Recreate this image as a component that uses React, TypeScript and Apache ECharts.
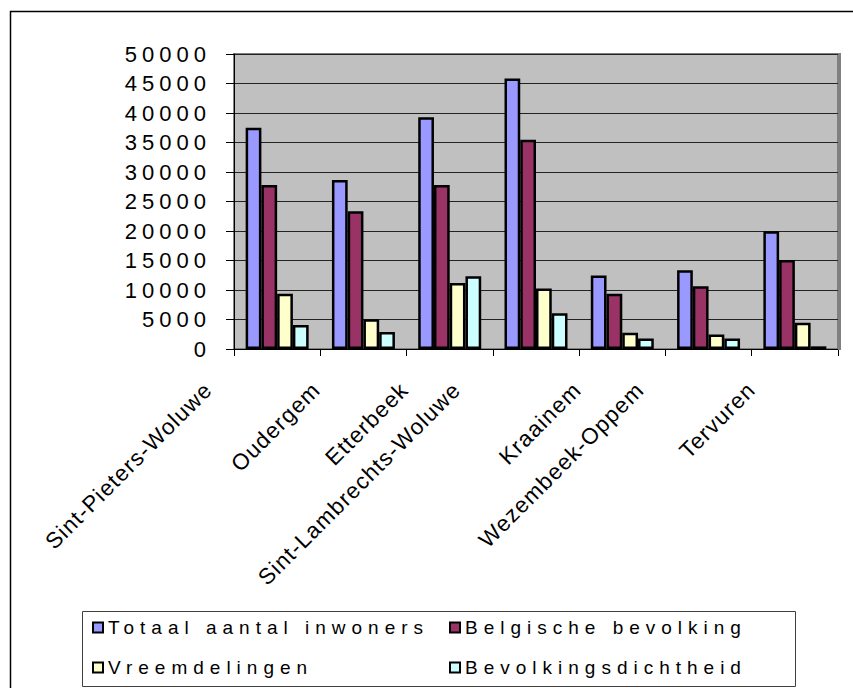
import React, { useEffect, useRef } from 'react';
import * as echarts from 'echarts';

const categories = [
  'Sint-Pieters-Woluwe',
  'Oudergem',
  'Etterbeek',
  'Sint-Lambrechts-Woluwe',
  'Kraainem',
  'Wezembeek-Oppem',
  'Tervuren',
];
const seriesNames = [
  'Totaal aantal inwoners',
  'Belgische bevolking',
  'Vreemdelingen',
  'Bevolkingsdichtheid',
];
const totaal = [37500, 28650, 39300, 45850, 12450, 13350, 19950];
const belgisch = [27800, 23350, 27800, 35450, 9350, 10650, 15100];
const vreemdelingen = [9350, 5050, 11200, 10250, 2750, 2450, 4450];
const dichtheid = [4050, 2900, 12350, 6050, 1800, 1800, 450];
const yMin = 0;
const yMax = 50000;
const yInterval = 5000;

const colors = ['#9999FF', '#993366', '#FFFFCC', '#CCFFFF'];
const FONT = 'Liberation Sans';
const X_FONT = 22.4;
const X_SPACING = 1.2;
const Y_FONT = 22;
const Y_SPACING = 5;
const L_FONT = 19;
const L_SPACING = 6;

function labelItem(text: string) {
  const ctx = document.createElement('canvas').getContext('2d');
  let w = text.length * 11;
  if (ctx) {
    ctx.font = `${X_FONT}px "${FONT}"`;
    w = ctx.measureText(text).width + text.length * X_SPACING;
  }
  const shift = 24 + 0.2 * w;
  const q = shift / Math.SQRT2;
  const pb = Math.max(0, q - X_FONT / 2);
  return {
    value: text,
    textStyle: { verticalAlign: 'bottom', padding: [0, q, pb, 0] },
  };
}

function applySpacing(root: HTMLElement) {
  const texts = root.querySelectorAll('text');
  texts.forEach((t) => {
    const el = t as SVGTextElement;
    const fs = parseFloat(getComputedStyle(el).fontSize);
    let ls = 0;
    if (Math.abs(fs - Y_FONT) < 0.1) ls = Y_SPACING;
    else if (Math.abs(fs - L_FONT) < 0.1) ls = L_SPACING;
    else if (Math.abs(fs - X_FONT) < 0.1) ls = X_SPACING;
    el.style.letterSpacing = ls + 'px';
  });
}

export default function App() {
  const ref = useRef<HTMLDivElement>(null);
  useEffect(() => {
    if (!ref.current) return;
    const root = ref.current;
    const chart = echarts.init(root, undefined, { renderer: 'svg' });
    const values = [totaal, belgisch, vreemdelingen, dichtheid];
    const legendPos = [
      [92, 618],
      [449, 618],
      [92, 658],
      [449, 658],
    ];
    chart.on('finished', () => applySpacing(root));
    chart.setOption({
      animation: false,
      textStyle: { fontFamily: FONT },
      grid: {
        left: 234,
        right: 15,
        top: 54,
        bottom: 339,
        show: true,
        backgroundColor: '#C0C0C0',
        borderColor: '#808080',
        borderWidth: 2,
        containLabel: false,
        outerBoundsMode: 'none',
      },
      xAxis: {
        type: 'category',
        data: categories.map(labelItem),
        boundaryGap: true,
        axisLine: { show: true, lineStyle: { color: '#000', width: 1 } },
        axisTick: { show: true, length: 7, lineStyle: { color: '#000' } },
        axisLabel: {
          interval: 0,
          rotate: 45,
          margin: 37,
          fontSize: X_FONT,
          color: '#000',
          fontFamily: FONT,
        },
        splitLine: { show: false },
      },
      yAxis: {
        type: 'value',
        min: yMin,
        max: yMax,
        interval: yInterval,
        axisLine: { show: true, lineStyle: { color: '#000', width: 1 } },
        axisTick: { show: true, length: 8, lineStyle: { color: '#000' } },
        axisLabel: {
          fontSize: Y_FONT,
          color: '#000',
          margin: 23,
          fontFamily: FONT,
          formatter: (v: number) => String(v),
        },
        splitLine: { show: true, lineStyle: { color: '#222', width: 1 } },
      },
      legend: seriesNames.map((n, i) => ({
        data: [n],
        left: legendPos[i][0],
        top: legendPos[i][1],
        padding: 0,
        itemWidth: 10,
        itemHeight: 10,
        icon: 'rect',
        selectedMode: false,
        z: 5,
        itemStyle: { borderColor: '#000', borderWidth: 2 },
        textStyle: { fontSize: L_FONT, color: '#000', fontFamily: FONT },
      })),
      graphic: [
        {
          type: 'rect',
          z: 0,
          silent: true,
          shape: { x: 10.5, y: 11.5, width: 900, height: 800 },
          style: { fill: 'none', stroke: '#000', lineWidth: 1.5 },
        },
        {
          type: 'rect',
          z: 1,
          silent: true,
          shape: { x: 82.5, y: 611.5, width: 713, height: 75 },
          style: { fill: '#fff', stroke: '#404040', lineWidth: 1 },
        },
        {
          type: 'line',
          z: 1,
          silent: true,
          shape: { x1: 839.5, y1: 53, x2: 839.5, y2: 350 },
          style: { stroke: '#808080', lineWidth: 3 },
        },
      ],
      series: seriesNames.map((n, i) => ({
        name: n,
        type: 'bar',
        data: values[i],
        barGap: '0%',
        barCategoryGap: '27%',
        itemStyle: { color: colors[i], borderColor: '#000', borderWidth: 2.5 },
      })),
    });
    applySpacing(root);
    const raf = requestAnimationFrame(() => applySpacing(root));
    return () => {
      cancelAnimationFrame(raf);
      chart.dispose();
    };
  }, []);
  return (
    <div
      ref={ref}
      style={{ position: 'absolute', left: 0, top: 0, width: 853, height: 688, background: '#fff' }}
    />
  );
}
